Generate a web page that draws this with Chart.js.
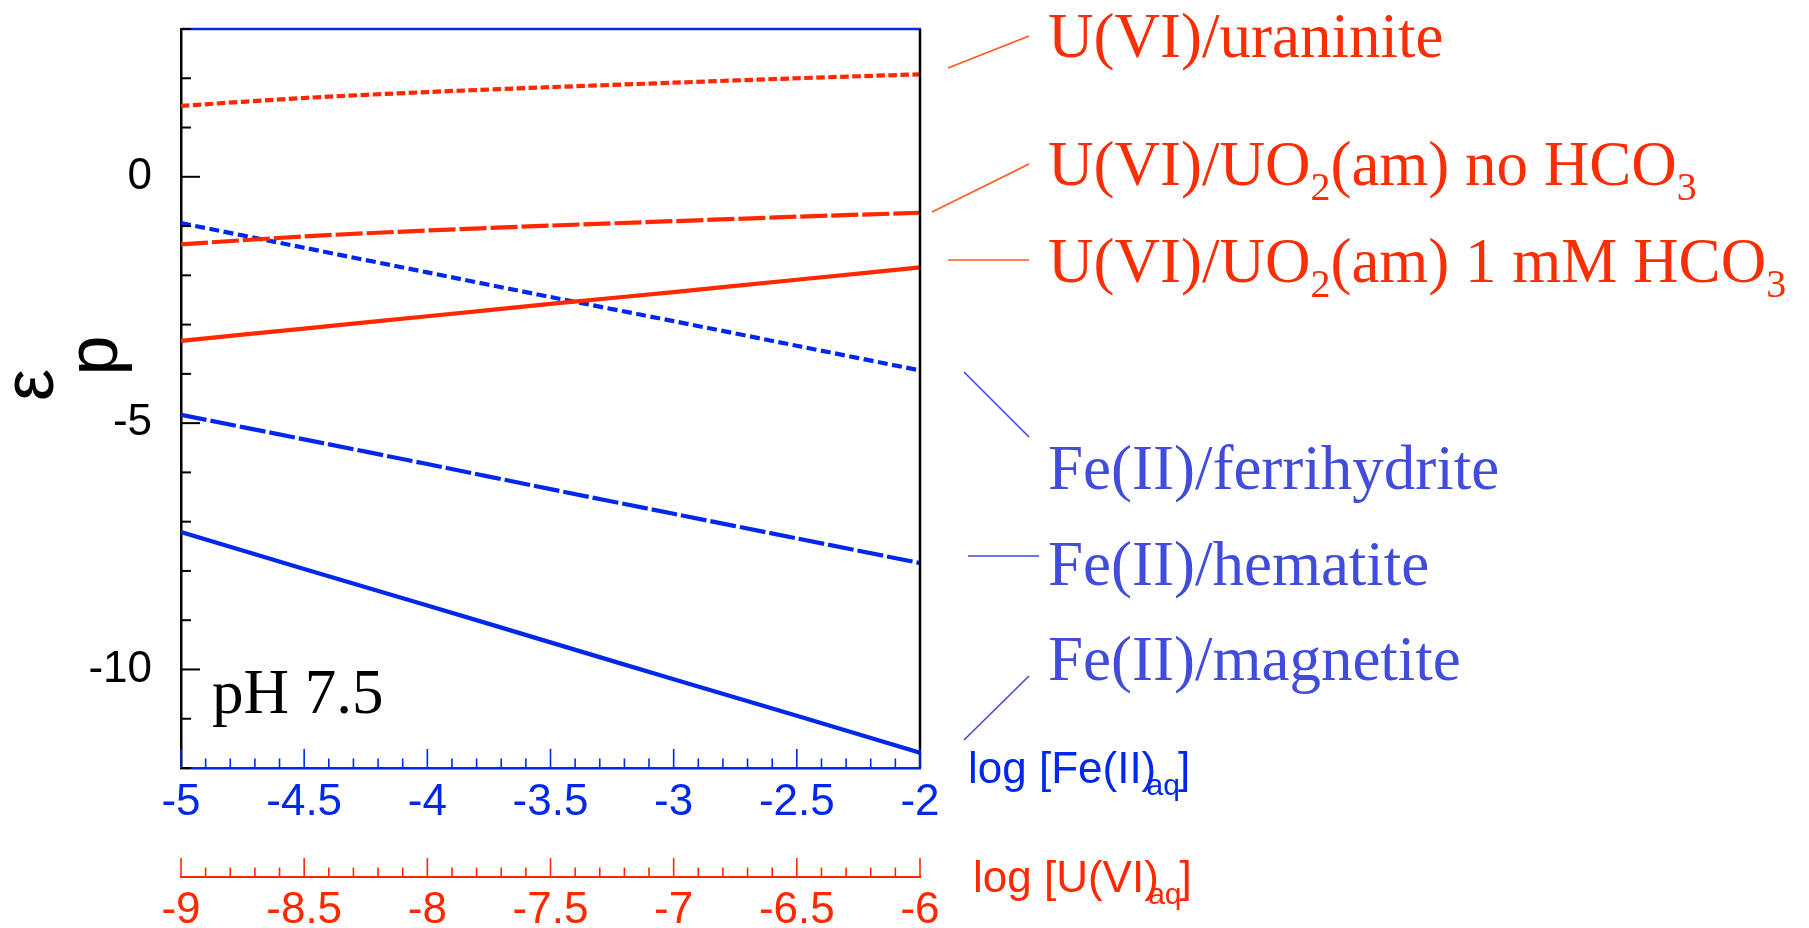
<!DOCTYPE html>
<html>
<head>
<meta charset="utf-8">
<script src="https://cdn.jsdelivr.net/npm/chart.js@4.4.1/dist/chart.umd.min.js"></script>
<style>
  html, body { margin: 0; padding: 0; background: #ffffff; }
  #wrap { width: 1809px; height: 928px; }
</style>
</head>
<body>
<div id="wrap"><canvas id="c" width="1809" height="928"></canvas></div>
<script>
// log activity of dissolved Fe(II) (lower axis) and U(VI) (second axis)
const feLog = [-5, -4.5, -4, -3.5, -3, -2.5, -2];
const uLog  = [-9, -8.5, -8, -7.5, -7, -6.5, -6];

// pe of the U(VI)/U(IV) couples against log[U(VI)aq]
const peUraninite    = [1.44, 1.60, 1.72, 1.82, 1.91, 2.00, 2.08];
const peUO2amNoHCO3  = [-1.37, -1.21, -1.09, -0.99, -0.90, -0.81, -0.73];
const peUO2am1mMHCO3 = [-3.33, -3.08, -2.83, -2.58, -2.34, -2.09, -1.84];

// pe of the Fe(III)/Fe(II) couples against log[Fe(II)aq]
const peFerrihydrite = [-0.94, -1.44, -1.94, -2.44, -2.93, -3.43, -3.93];
const peHematite     = [-4.83, -5.33, -5.83, -6.34, -6.84, -7.34, -7.84];
const peMagnetite    = [-7.21, -7.96, -8.70, -9.45, -10.20, -10.94, -11.69];

// labelled pe ticks
const peLabelled = [0, -5, -10];

const RED = 'rgb(255, 40, 0)';
const BLUE = 'rgb(0, 40, 235)';
const RED_TEXT = 'rgb(250, 45, 5)';
const BLUE_TEXT = 'rgb(66, 76, 218)';
const RED_LEAD = 'rgb(255, 90, 30)';
const BLUE_LEAD = 'rgb(60, 75, 215)';
const SANS = '"Liberation Sans", Arial, sans-serif';
const SERIF = '"Liberation Serif", "Times New Roman", serif';

function pts(xs, ys) { return xs.map((x, i) => ({ x: x, y: ys[i] })); }

function line(label, xs, ys, axis, color, dash) {
  return {
    label: label,
    data: pts(xs, ys),
    xAxisID: axis,
    yAxisID: 'y',
    showLine: true,
    borderColor: color,
    backgroundColor: color,
    borderWidth: 4.2,
    borderDash: dash,
    borderCapStyle: 'butt',
    pointRadius: 0,
    tension: 0.3,
    fill: false
  };
}

// right-hand labels: text runs [text, isSubscript]
const curveLabels = [
  { runs: [['U(VI)/uraninite', 0]], color: RED_TEXT, x: 1048, y: 57,
    lead: [948, 68, 1029, 36], leadColor: RED_LEAD },
  { runs: [['U(VI)/UO', 0], ['2', 1], ['(am) no HCO', 0], ['3', 1]], color: RED_TEXT, x: 1048, y: 185,
    lead: [932, 212, 1029, 164], leadColor: RED_LEAD },
  { runs: [['U(VI)/UO', 0], ['2', 1], ['(am) 1 mM HCO', 0], ['3', 1]], color: RED_TEXT, x: 1048, y: 282,
    lead: [948, 260, 1029, 260], leadColor: RED_LEAD },
  { runs: [['Fe(II)/ferrihydrite', 0]], color: BLUE_TEXT, x: 1048, y: 489,
    lead: [964, 372, 1029, 437], leadColor: BLUE_LEAD },
  { runs: [['Fe(II)/hematite', 0]], color: BLUE_TEXT, x: 1048, y: 585,
    lead: [968, 556, 1039, 556], leadColor: BLUE_LEAD },
  { runs: [['Fe(II)/magnetite', 0]], color: BLUE_TEXT, x: 1048, y: 680,
    lead: [964, 740, 1029, 676], leadColor: BLUE_LEAD }
];

function drawRuns(ctx, runs, x, y, size, subSize, shift, family) {
  let cx = x;
  runs.forEach(([t, sub]) => {
    ctx.font = (sub ? subSize : size) + 'px ' + family;
    ctx.fillText(t, cx, sub ? y + shift : y);
    cx += ctx.measureText(t).width;
  });
}

function drawAxisTitle(ctx, main, x, y, color, gap) {
  ctx.fillStyle = color;
  ctx.textAlign = 'left';
  ctx.textBaseline = 'alphabetic';
  ctx.font = '44px ' + SANS;
  ctx.fillText(main + ')', x, y);
  const w = ctx.measureText(main).width;
  ctx.font = '30px ' + SANS;
  const sx = x + w + gap;
  ctx.fillText('aq', sx, y + 12);
  const sw = ctx.measureText('aq').width;
  ctx.font = '44px ' + SANS;
  ctx.fillText(']', sx + sw - 2, y);
}

const decor = {
  id: 'decor',
  afterDraw(chart) {
    const ctx = chart.ctx;
    const a = chart.chartArea;
    const ys = chart.scales.y, xf = chart.scales.xFe, xu = chart.scales.xU;
    ctx.save();

    // frame: top (blue) and right (black)
    ctx.lineCap = 'butt';
    ctx.strokeStyle = BLUE;
    ctx.lineWidth = 2.5;
    ctx.beginPath(); ctx.moveTo(a.left, a.top); ctx.lineTo(a.right + 1, a.top); ctx.stroke();
    ctx.strokeStyle = '#000';
    ctx.lineWidth = 2.5;
    ctx.beginPath(); ctx.moveTo(a.right, a.top); ctx.lineTo(a.right, a.bottom); ctx.stroke();

    // inward tick marks on the pe axis
    ctx.strokeStyle = '#000';
    ctx.lineWidth = 2;
    for (let v = -12; v <= 3; v++) {
      const p = ys.getPixelForValue(v);
      const len = (v % 5 === 0) ? 19 : 10;
      ctx.beginPath(); ctx.moveTo(a.left, p); ctx.lineTo(a.left + len, p); ctx.stroke();
    }

    // inward tick marks on both log axes
    function xticks(scale, lo, base, color) {
      ctx.strokeStyle = color;
      ctx.lineWidth = 1.6;
      for (let i = 0; i <= 30; i++) {
        const p = scale.getPixelForValue(lo + i / 10);
        const len = (i % 5 === 0) ? 19 : 9.5;
        ctx.beginPath(); ctx.moveTo(p, base); ctx.lineTo(p, base - len); ctx.stroke();
      }
    }
    xticks(xf, -5, xf.top, BLUE);
    xticks(xu, -9, xu.top, RED);

    // axis titles
    drawAxisTitle(ctx, 'log [Fe(II', 968, 783, BLUE, 5);
    drawAxisTitle(ctx, 'log [U(VI', 973, 892, RED, 4);

    // pe axis title
    ctx.fillStyle = '#000';
    ctx.font = '72px ' + SANS;
    ctx.textAlign = 'center';
    ctx.textBaseline = 'alphabetic';
    ctx.save(); ctx.translate(117, 355.5); ctx.rotate(-Math.PI / 2); ctx.fillText('p', 0, 0); ctx.restore();
    ctx.save(); ctx.translate(53, 385); ctx.rotate(-Math.PI / 2); ctx.fillText('ε', 0, 0); ctx.restore();

    // pH note
    ctx.textAlign = 'left';
    ctx.font = '63px ' + SERIF;
    ctx.fillText('pH 7.5', 212, 713);

    // curve labels with leader lines
    curveLabels.forEach(l => {
      ctx.strokeStyle = l.leadColor;
      ctx.lineWidth = 1.6;
      ctx.beginPath(); ctx.moveTo(l.lead[0], l.lead[1]); ctx.lineTo(l.lead[2], l.lead[3]); ctx.stroke();
      ctx.fillStyle = l.color;
      drawRuns(ctx, l.runs, l.x, l.y, 63, 40, 15, SERIF);
    });

    ctx.restore();
  }
};

const fmt = v => String(Math.round(v * 10) / 10);

// keep the plot frame fixed: labels may overhang into the margins
function noOverhang(s) {
  s.paddingTop = 0; s.paddingBottom = 0; s.paddingLeft = 0; s.paddingRight = 0;
}

new Chart(document.getElementById('c'), {
  type: 'scatter',
  data: {
    datasets: [
      line('U(VI)/uraninite', uLog, peUraninite, 'xU', RED, [8.5, 3.5]),
      line('U(VI)/UO2(am) no HCO3', uLog, peUO2amNoHCO3, 'xU', RED, [27, 4]),
      line('U(VI)/UO2(am) 1 mM HCO3', uLog, peUO2am1mMHCO3, 'xU', RED, []),
      line('Fe(II)/ferrihydrite', feLog, peFerrihydrite, 'xFe', BLUE, [10, 4.5]),
      line('Fe(II)/hematite', feLog, peHematite, 'xFe', BLUE, [26, 4]),
      line('Fe(II)/magnetite', feLog, peMagnetite, 'xFe', BLUE, [])
    ]
  },
  options: {
    responsive: false,
    animation: false,
    devicePixelRatio: 1,
    layout: { padding: { left: 0, right: 889, top: 29, bottom: 0 } },
    plugins: { legend: { display: false }, tooltip: { enabled: false } },
    scales: {
      xFe: {
        type: 'linear', position: 'bottom', weight: 0,
        min: -5, max: -2,
        grid: { display: false, drawTicks: false },
        border: { display: true, color: BLUE, width: 2.5 },
        ticks: { stepSize: 0.5, color: BLUE, font: { family: SANS, size: 44 }, padding: 8,
                 maxRotation: 0, minRotation: 0, autoSkip: false, callback: fmt },
        afterFit: s => { s.height = 109; noOverhang(s); }
      },
      xU: {
        type: 'linear', position: 'bottom', weight: 1,
        min: -9, max: -6,
        grid: { display: false, drawTicks: false },
        border: { display: true, color: RED, width: 2 },
        ticks: { stepSize: 0.5, color: RED, font: { family: SANS, size: 44 }, padding: 7,
                 maxRotation: 0, minRotation: 0, autoSkip: false, callback: fmt },
        afterFit: s => { s.height = 51; noOverhang(s); }
      },
      y: {
        type: 'linear', position: 'left',
        min: -12, max: 3,
        grid: { display: false, drawTicks: false },
        border: { display: true, color: '#000', width: 2.5 },
        ticks: { stepSize: 1, color: '#000', font: { family: SANS, size: 44 }, padding: 29,
                 autoSkip: false,
                 callback: v => peLabelled.includes(v) ? String(v) : '' },
        afterFit: s => { s.width = 181; noOverhang(s); }
      }
    }
  },
  plugins: [decor]
});
</script>
</body>
</html>
